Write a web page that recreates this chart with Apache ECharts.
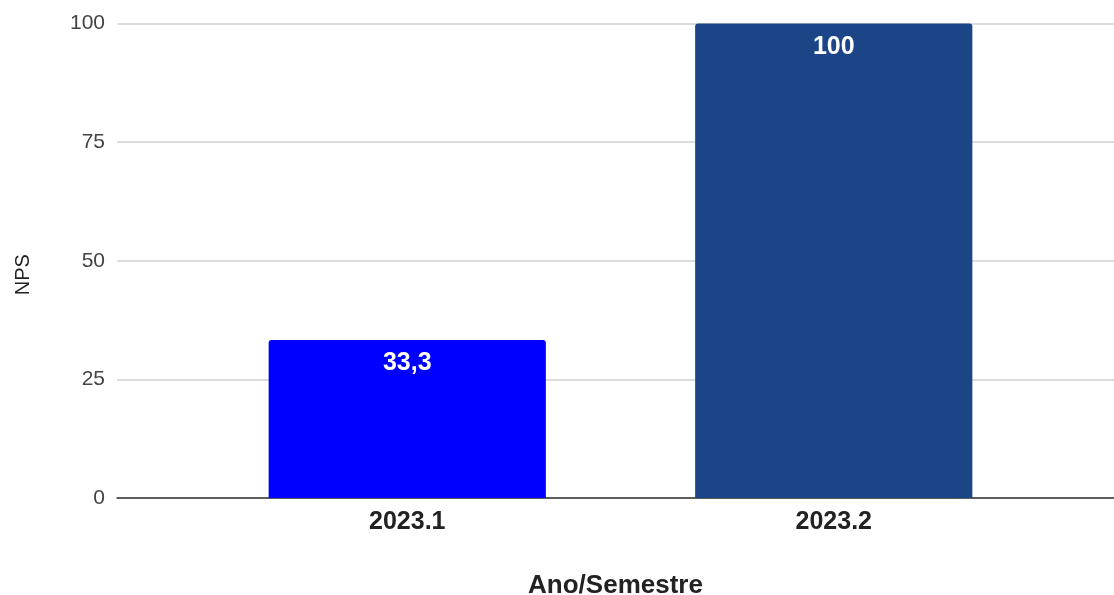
<!DOCTYPE html>
<html>
<head>
<meta charset="utf-8">
<script src="https://cdn.jsdelivr.net/npm/echarts@6/dist/echarts.min.js"></script>
<style>
  html, body { margin: 0; padding: 0; background: #ffffff; }
  #chart { width: 1114px; height: 595px; }
</style>
</head>
<body>
<div id="chart"></div>
<script>
// NPS per semester
const categories = ['2023.1', '2023.2'];
const npsValues = [33.3, 100];
const barColors = ['#0000ff', '#1c4587'];
const yTicks = [0, 25, 50, 75, 100];

const font = 'Arial, "Liberation Sans", sans-serif';
const yMin = yTicks[0];
const yMax = yTicks[yTicks.length - 1];
const yStep = yTicks[1] - yTicks[0];

const chart = echarts.init(document.getElementById('chart'), null, { renderer: 'canvas' });

chart.setOption({
  animation: false,
  backgroundColor: '#ffffff',
  grid: [
    // full-width frame: gridlines, value labels, baseline
    { left: 117, right: 0, top: 23.5, bottom: 97, outerBoundsMode: 'none' },
    // inner band holding the two category columns
    { left: 194, right: 67, top: 23.5, bottom: 97, outerBoundsMode: 'none' }
  ],
  xAxis: [
    {
      gridIndex: 0, type: 'value', min: 0, max: 1,
      axisLine: { show: true, lineStyle: { color: '#333333', width: 1.5 } },
      axisTick: { show: false }, axisLabel: { show: false }, splitLine: { show: false },
      name: 'Ano/Semestre', nameLocation: 'middle', nameGap: 75,
      nameTextStyle: { fontFamily: font, fontSize: 26, fontWeight: 'bold', color: '#222222' }
    },
    {
      gridIndex: 1, type: 'category', data: categories,
      axisLine: { show: false }, axisTick: { show: false },
      axisLabel: { fontFamily: font, fontSize: 25, fontWeight: 'bold', color: '#222222', margin: 12 }
    }
  ],
  yAxis: [
    {
      gridIndex: 0, type: 'value', min: yMin, max: yMax, interval: yStep,
      axisLine: { show: false }, axisTick: { show: false },
      axisLabel: { fontFamily: font, fontSize: 21, color: '#444444', margin: 12 },
      splitLine: { lineStyle: { color: '#d0d0d0', width: 1.5 } },
      name: 'NPS', nameLocation: 'middle', nameGap: 84, nameRotate: 90,
      nameTextStyle: { fontFamily: font, fontSize: 20, color: '#222222', padding: [0, 28, 0, 0] }
    },
    {
      gridIndex: 1, type: 'value', min: yMin, max: yMax, interval: yStep,
      show: false
    }
  ],
  series: [
    {
      type: 'bar',
      xAxisIndex: 1, yAxisIndex: 1,
      barWidth: '65%',
      data: npsValues.map((v, i) => ({
        value: v,
        itemStyle: { color: barColors[i], borderRadius: [3, 3, 0, 0] }
      })),
      label: {
        show: true,
        position: 'insideTop',
        distance: 11,
        fontFamily: font,
        fontSize: 25,
        fontWeight: 'bold',
        color: '#ffffff',
        formatter: p => String(p.value).replace('.', ',')
      }
    }
  ]
});
</script>
</body>
</html>
